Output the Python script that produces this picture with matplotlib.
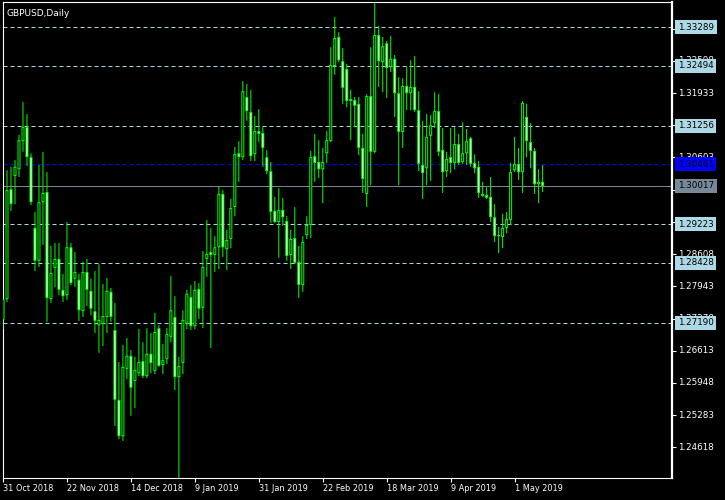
import numpy as np
import matplotlib
matplotlib.use("Agg")
import matplotlib.pyplot as plt
from matplotlib.transforms import blended_transform_factory

# GBPUSD daily bars, 31 Oct 2018 .. 10 May 2019
opens = [1.2725, 1.2768, 1.2995, 1.3022, 1.3036, 1.3094, 1.3123, 1.3061, 1.2915, 1.2847,
         1.2968, 1.2989, 1.2768, 1.2832, 1.2851, 1.2787, 1.2776, 1.2875, 1.2810, 1.2808,
         1.2743, 1.2824, 1.2785, 1.2743, 1.2714, 1.2717, 1.2731, 1.2783, 1.2704, 1.2560,
         1.2485, 1.2624, 1.2651, 1.2599, 1.2615, 1.2640, 1.2609, 1.2655, 1.2620, 1.2708,
         1.2632, 1.2644, 1.2690, 1.2731, 1.2607, 1.2636, 1.2717, 1.2772, 1.2712, 1.2789,
         1.2750, 1.2851, 1.2865, 1.2859, 1.2875, 1.2985, 1.2871, 1.2892, 1.2958, 1.3069,
         1.3061, 1.3185, 1.3154, 1.3067, 1.3115, 1.3111, 1.3061, 1.3032, 1.2950, 1.2927,
         1.2952, 1.2929, 1.2859, 1.2894, 1.2845, 1.2797, 1.2900, 1.2921, 1.3063, 1.3051,
         1.3036, 1.3069, 1.3094, 1.3249, 1.3309, 1.3259, 1.3243, 1.3177, 1.3179, 1.3171,
         1.3080, 1.2985, 1.3187, 1.3072, 1.3313, 1.3257, 1.3296, 1.3247, 1.3264, 1.3193,
         1.3113, 1.3208, 1.3193, 1.3206, 1.3158, 1.3045, 1.3038, 1.3105, 1.3131, 1.3156,
         1.3076, 1.3032, 1.3061, 1.3049, 1.3088, 1.3051, 1.3069, 1.3100, 1.3049, 1.3041,
         1.2985, 1.2983, 1.2979, 1.2937, 1.2898, 1.2896, 1.2915, 1.2931, 1.3034, 1.3047,
         1.3030, 1.3144, 1.3092, 1.3074, 1.3005, 1.3010]
highs = [1.2768, 1.3034, 1.3041, 1.3055, 1.3107, 1.3175, 1.3150, 1.3069, 1.2948, 1.3045,
         1.3072, 1.3030, 1.2878, 1.2884, 1.2884, 1.2820, 1.2927, 1.2884, 1.2865, 1.2820,
         1.2845, 1.2851, 1.2810, 1.2826, 1.2840, 1.2799, 1.2812, 1.2791, 1.2760, 1.2638,
         1.2673, 1.2688, 1.2663, 1.2649, 1.2706, 1.2679, 1.2708, 1.2698, 1.2739, 1.2714,
         1.2675, 1.2708, 1.2816, 1.2774, 1.2649, 1.2745, 1.2787, 1.2797, 1.2805, 1.2801,
         1.2867, 1.2931, 1.2915, 1.2898, 1.3001, 1.2993, 1.2911, 1.2975, 1.3082, 1.3094,
         1.3218, 1.3212, 1.3200, 1.3146, 1.3160, 1.3123, 1.3076, 1.3051, 1.2979, 1.2997,
         1.2977, 1.2939, 1.2911, 1.2958, 1.2878, 1.2898, 1.2939, 1.3074, 1.3109, 1.3096,
         1.3080, 1.3115, 1.3288, 1.3350, 1.3319, 1.3286, 1.3253, 1.3200, 1.3185, 1.3185,
         1.3109, 1.3191, 1.3288, 1.3379, 1.3332, 1.3309, 1.3301, 1.3311, 1.3272, 1.3226,
         1.3224, 1.3247, 1.3261, 1.3270, 1.3197, 1.3136, 1.3150, 1.3148, 1.3195, 1.3191,
         1.3121, 1.3072, 1.3121, 1.3123, 1.3109, 1.3133, 1.3119, 1.3103, 1.3067, 1.3053,
         1.3010, 1.2999, 1.3020, 1.2964, 1.2917, 1.2944, 1.2948, 1.3049, 1.3103, 1.3080,
         1.3177, 1.3171, 1.3131, 1.3080, 1.3036, 1.3045]
lows = [1.2706, 1.2762, 1.2950, 1.2964, 1.3020, 1.3072, 1.3043, 1.2962, 1.2826, 1.2834,
        1.2880, 1.2721, 1.2760, 1.2793, 1.2776, 1.2762, 1.2766, 1.2797, 1.2793, 1.2723,
        1.2731, 1.2754, 1.2735, 1.2698, 1.2657, 1.2671, 1.2698, 1.2721, 1.2506, 1.2479,
        1.2475, 1.2603, 1.2527, 1.2543, 1.2609, 1.2605, 1.2605, 1.2615, 1.2613, 1.2628,
        1.2613, 1.2634, 1.2679, 1.2580, 1.2397, 1.2613, 1.2706, 1.2704, 1.2706, 1.2727,
        1.2708, 1.2814, 1.2667, 1.2824, 1.2830, 1.2855, 1.2828, 1.2873, 1.2939, 1.3010,
        1.3055, 1.3136, 1.3053, 1.3053, 1.3092, 1.3041, 1.3026, 1.2925, 1.2925, 1.2853,
        1.2919, 1.2847, 1.2830, 1.2840, 1.2770, 1.2783, 1.2892, 1.2894, 1.3010, 1.3018,
        1.2966, 1.3049, 1.3092, 1.3231, 1.3257, 1.3171, 1.3164, 1.3096, 1.3123, 1.3065,
        1.2987, 1.2958, 1.3003, 1.3069, 1.3206, 1.3195, 1.3183, 1.3237, 1.3144, 1.3003,
        1.3080, 1.3158, 1.3158, 1.3154, 1.3032, 1.2975, 1.3003, 1.3012, 1.3121, 1.3063,
        1.2987, 1.3020, 1.3028, 1.3036, 1.3045, 1.3047, 1.3045, 1.3041, 1.3028, 1.2977,
        1.2979, 1.2975, 1.2927, 1.2886, 1.2863, 1.2873, 1.2904, 1.2921, 1.3030, 1.3014,
        1.2987, 1.3061, 1.3038, 1.2985, 1.2966, 1.2989]
closes = [1.2768, 1.2993, 1.2964, 1.3041, 1.3096, 1.3123, 1.3061, 1.2968, 1.2847, 1.2968,
          1.2987, 1.2770, 1.2822, 1.2851, 1.2787, 1.2774, 1.2875, 1.2801, 1.2824, 1.2745,
          1.2824, 1.2787, 1.2748, 1.2723, 1.2725, 1.2733, 1.2785, 1.2731, 1.2560, 1.2485,
          1.2628, 1.2651, 1.2585, 1.2622, 1.2638, 1.2609, 1.2655, 1.2636, 1.2700, 1.2630,
          1.2642, 1.2696, 1.2745, 1.2607, 1.2630, 1.2725, 1.2779, 1.2712, 1.2787, 1.2748,
          1.2834, 1.2861, 1.2859, 1.2875, 1.2985, 1.2875, 1.2890, 1.2956, 1.3067, 1.3061,
          1.3197, 1.3156, 1.3063, 1.3115, 1.3109, 1.3080, 1.3032, 1.2948, 1.2927, 1.2952,
          1.2937, 1.2857, 1.2892, 1.2843, 1.2797, 1.2886, 1.2921, 1.3061, 1.3049, 1.3036,
          1.3051, 1.3096, 1.3251, 1.3307, 1.3261, 1.3204, 1.3177, 1.3181, 1.3167, 1.3080,
          1.3016, 1.3187, 1.3072, 1.3313, 1.3259, 1.3290, 1.3245, 1.3264, 1.3193, 1.3113,
          1.3208, 1.3193, 1.3206, 1.3158, 1.3047, 1.3028, 1.3103, 1.3127, 1.3156, 1.3072,
          1.3030, 1.3057, 1.3049, 1.3088, 1.3049, 1.3069, 1.3094, 1.3047, 1.3038, 1.2987,
          1.2981, 1.2977, 1.2937, 1.2898, 1.2900, 1.2915, 1.2933, 1.3030, 1.3047, 1.3030,
          1.3173, 1.3094, 1.3074, 1.3005, 1.3010, 1.30017]

date_labels = ["31 Oct 2018", "22 Nov 2018", "14 Dec 2018", "9 Jan 2019", "31 Jan 2019",
               "22 Feb 2019", "18 Mar 2019", "9 Apr 2019", "1 May 2019"]
price_ticks = [1.24618, 1.25283, 1.25948, 1.26613, 1.27278, 1.27943, 1.28608,
               1.29273, 1.29938, 1.30603, 1.31268, 1.31933, 1.32598, 1.33263]
levels = [1.33289, 1.32494, 1.31256, 1.29223, 1.28428, 1.27190]
blue_level = 1.30461
bid = 1.30017

GREEN = "#00ff00"
LBLUE = "#add8e6"
YMIN, YMAX = 1.23987, 1.33812

o = np.array(opens); h = np.array(highs); l = np.array(lows); c = np.array(closes)
x = np.arange(len(o))

fig = plt.figure(figsize=(7.25, 5), dpi=100, facecolor="black")
ax = fig.add_axes([3/725, 22/500, 669/725, 476/500], facecolor="black")

# one screen pixel in price units (4 px per bar horizontally)
px = (YMAX - YMIN) / 476

ax.vlines(x, l, h, color=GREEN, lw=0.72, zorder=3, snap=False)
top = np.maximum(o, c)
bot = np.minimum(o, c)
ax.bar(x, np.maximum(top - bot, px), 0.75, bot, color=GREEN, lw=0, zorder=4, snap=False)
inner = top - bot - 2 * px
show = inner > 0
bull = c >= o
m = show & bull
ax.bar(x[m], inner[m], 0.25, bot[m] + px, color="black", lw=0, zorder=5, snap=False)
m = show & ~bull
ax.bar(x[m], inner[m], 0.25, bot[m] + px, color="white", lw=0, zorder=5, snap=False)

for lv in levels:
    ax.axhline(lv, color=LBLUE, lw=0.72, ls=(0, (4, 3)), zorder=2)
ax.axhline(blue_level, color="#0000ff", lw=0.72, ls=(0, (4, 3)), zorder=2)
ax.axhline(bid, color="#778899", lw=0.72, zorder=2)

ax.set_xlim(0.125, 0.125 + 669 / 4)
ax.set_ylim(YMIN, YMAX)

for s in ax.spines.values():
    s.set_color("white")
    s.set_linewidth(0.8)
ax.spines["right"].set_linewidth(1.6)

ax.set_xticks(np.arange(0, len(date_labels) * 16, 16))
ax.set_xticklabels(date_labels, ha="left", color="white", fontsize=5.9)
ax.tick_params(axis="x", colors="white", length=3, width=0.8, pad=1.5)

ax.yaxis.tick_right()
ax.set_yticks(price_ticks)
ax.set_yticklabels([])
ax.tick_params(axis="y", colors="white", length=3, width=0.8)

tr = blended_transform_factory(ax.transAxes, ax.transData)
for p in price_ticks:
    ax.annotate(f"{p:.5f}", (1, p), xycoords=tr, xytext=(4.3, 0), textcoords="offset points",
                va="center", ha="left", color="white", fontsize=6.3, annotation_clip=False, zorder=5)

boxes = [(lv, LBLUE) for lv in levels] + [(blue_level, "#0000ff"), (bid, "#778899")]
for lv, col in boxes:
    ax.annotate(f"{lv:.5f}", (1, lv), xycoords=tr, xytext=(4.3, 0), textcoords="offset points",
                va="center", ha="left", color="black", fontsize=6.3, annotation_clip=False, zorder=6,
                bbox=dict(boxstyle="square,pad=0.3", fc=col, ec="none"))

ax.text(0.005, 0.985, "GBPUSD,Daily", transform=ax.transAxes, color="white",
        fontsize=6.5, va="top", ha="left")

fig.savefig("out.png", dpi=100, facecolor="black")
